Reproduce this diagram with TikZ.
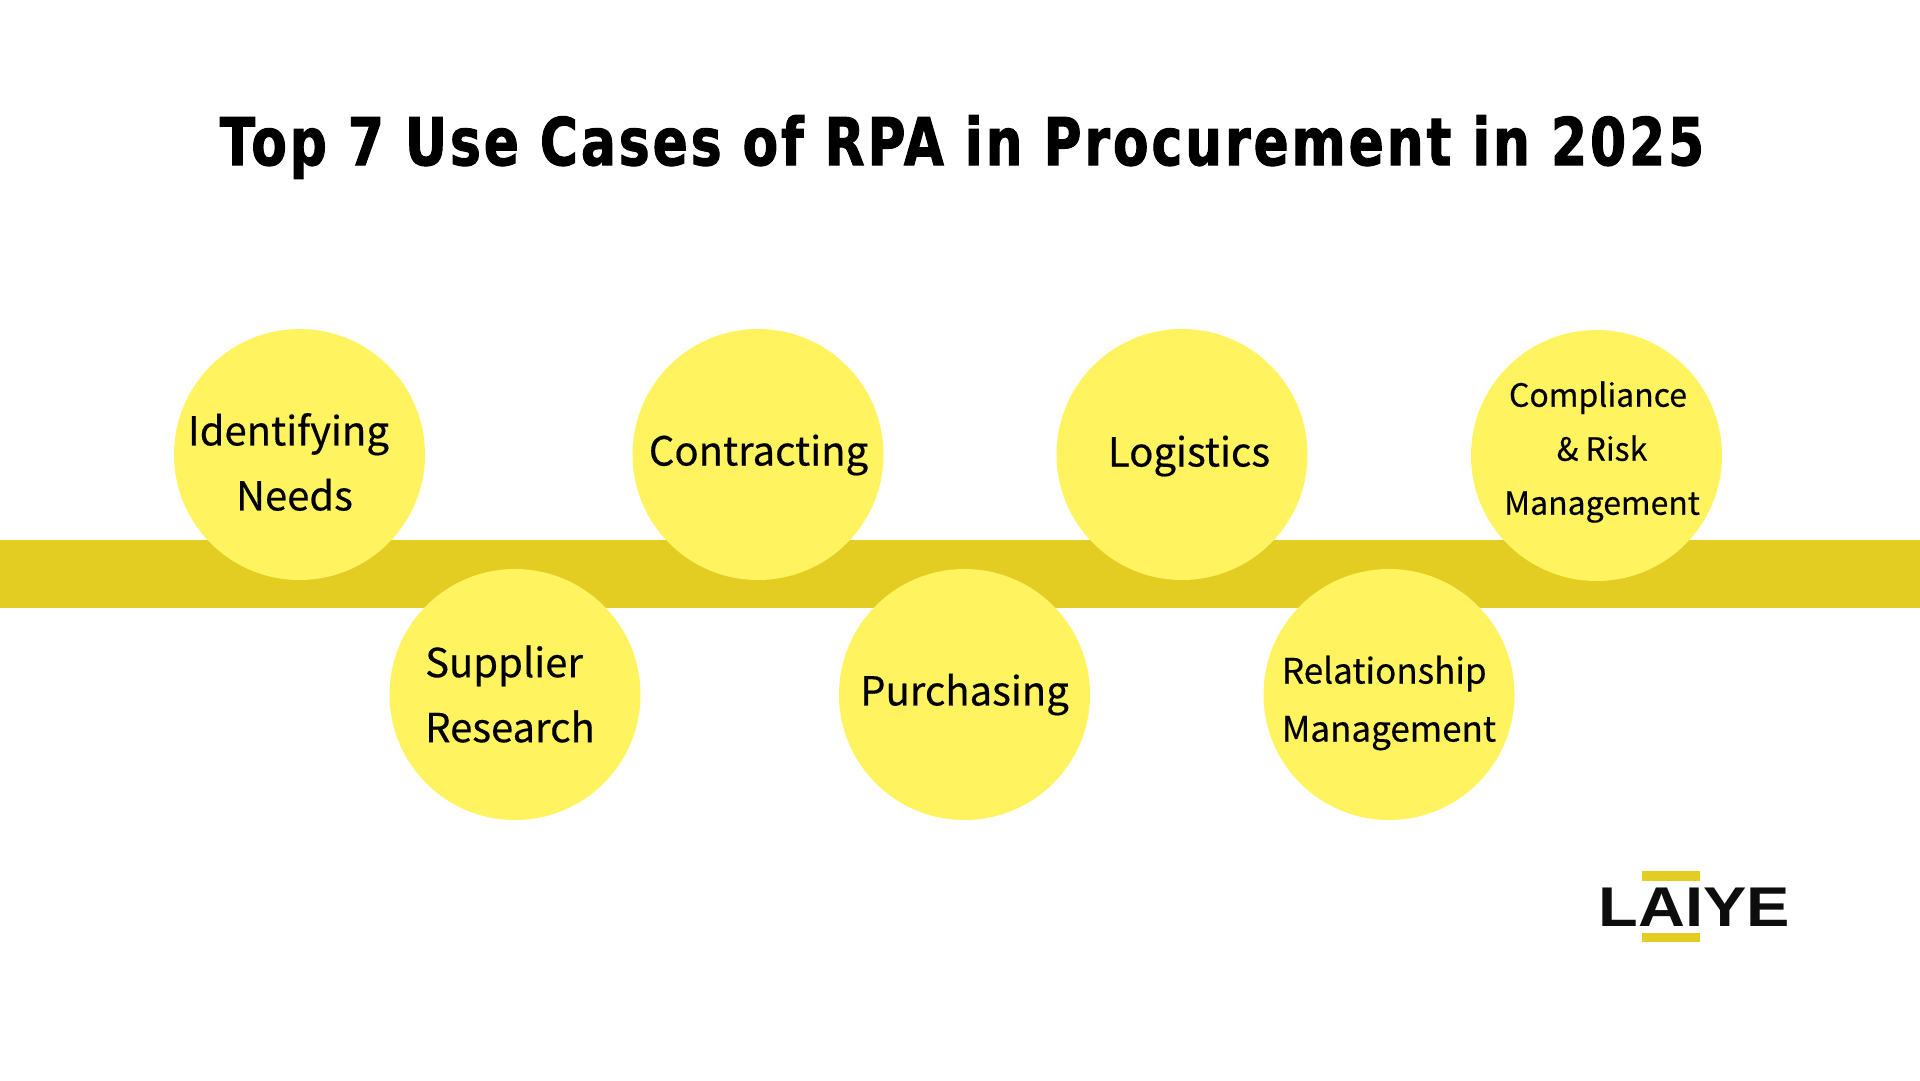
\documentclass[tikz,border=0pt]{standalone}
\usepackage{fontspec}
\newfontfamily\titlefont[FakeStretch=0.785,LetterSpace=4.5,FakeBold=1.5]{DejaVu Sans}
\newfontfamily\labelfont[FakeBold=0.4]{Noto Sans CJK SC}
\newfontfamily\logofont[FakeStretch=1.16]{Liberation Sans}
\usepackage{xcolor}
\definecolor{bandcol}{HTML}{E3CD22}
\definecolor{circcol}{HTML}{FFF35F}
\tikzset{
  stop/.style={circle,fill=circcol,draw=none,minimum size=251pt,inner sep=0pt},
  biglabel/.style={align=center,font=\labelfont\fontsize{40}{65}\selectfont},
  midlabel/.style={align=left,font=\labelfont\fontsize{35}{58}\selectfont},
  smalllabel/.style={align=center,font=\labelfont\fontsize{32}{54}\selectfont}
}
\begin{document}
\begin{tikzpicture}[x=1pt,y=-1pt]
  \useasboundingbox (0,0) rectangle (1920,1080);
  % title
  \node[font=\titlefont\bfseries\fontsize{66}{70}\selectfont] (title) at (962,147) {Top 7 Use Cases of RPA in Procurement in 2025};
  % band
  \fill[bandcol] (0,540) rectangle (1920,608);
  % circles
  \foreach \X/\Y/\N in {299.5/454.5/needs,515/694.5/research,758/454.5/contract,964.5/694.5/purchase,1182/454.5/logistic,1389/694.5/relation,1596.5/455.5/comply}{
    \node[stop] (\N) at (\X,\Y) {};
  }
  % labels
  \node[biglabel] (needstext) at (288.5,462) {Identifying\\\hspace{12pt}Needs};
  \node[biglabel,align=left] (researchtext) at (510,694) {Supplier\\Research};
  \node[biglabel] (contracttext) at (758.5,455) {Contracting};
  \node[biglabel] (purchasetext) at (964.5,694.5) {Purchasing};
  \node[biglabel] (logistictext) at (1189,456) {Logistics};
  \node[midlabel] (relationtext) at (1389,703) {Relationship\\Management};
  \node[smalllabel] (complytext) at (1602,452) {Compliance\hspace*{8pt}\\\& Risk\hspace*{8pt}\\Management};
  % logo
  \fill[bandcol] (1642,871) rectangle (1700,881);
  \fill[bandcol] (1642,933) rectangle (1700,942);
  \node[font=\logofont\bfseries\fontsize{56}{60}\selectfont,text=black!95] (logo) at (1694.5,907) {LAIYE};
\end{tikzpicture}
\end{document}
